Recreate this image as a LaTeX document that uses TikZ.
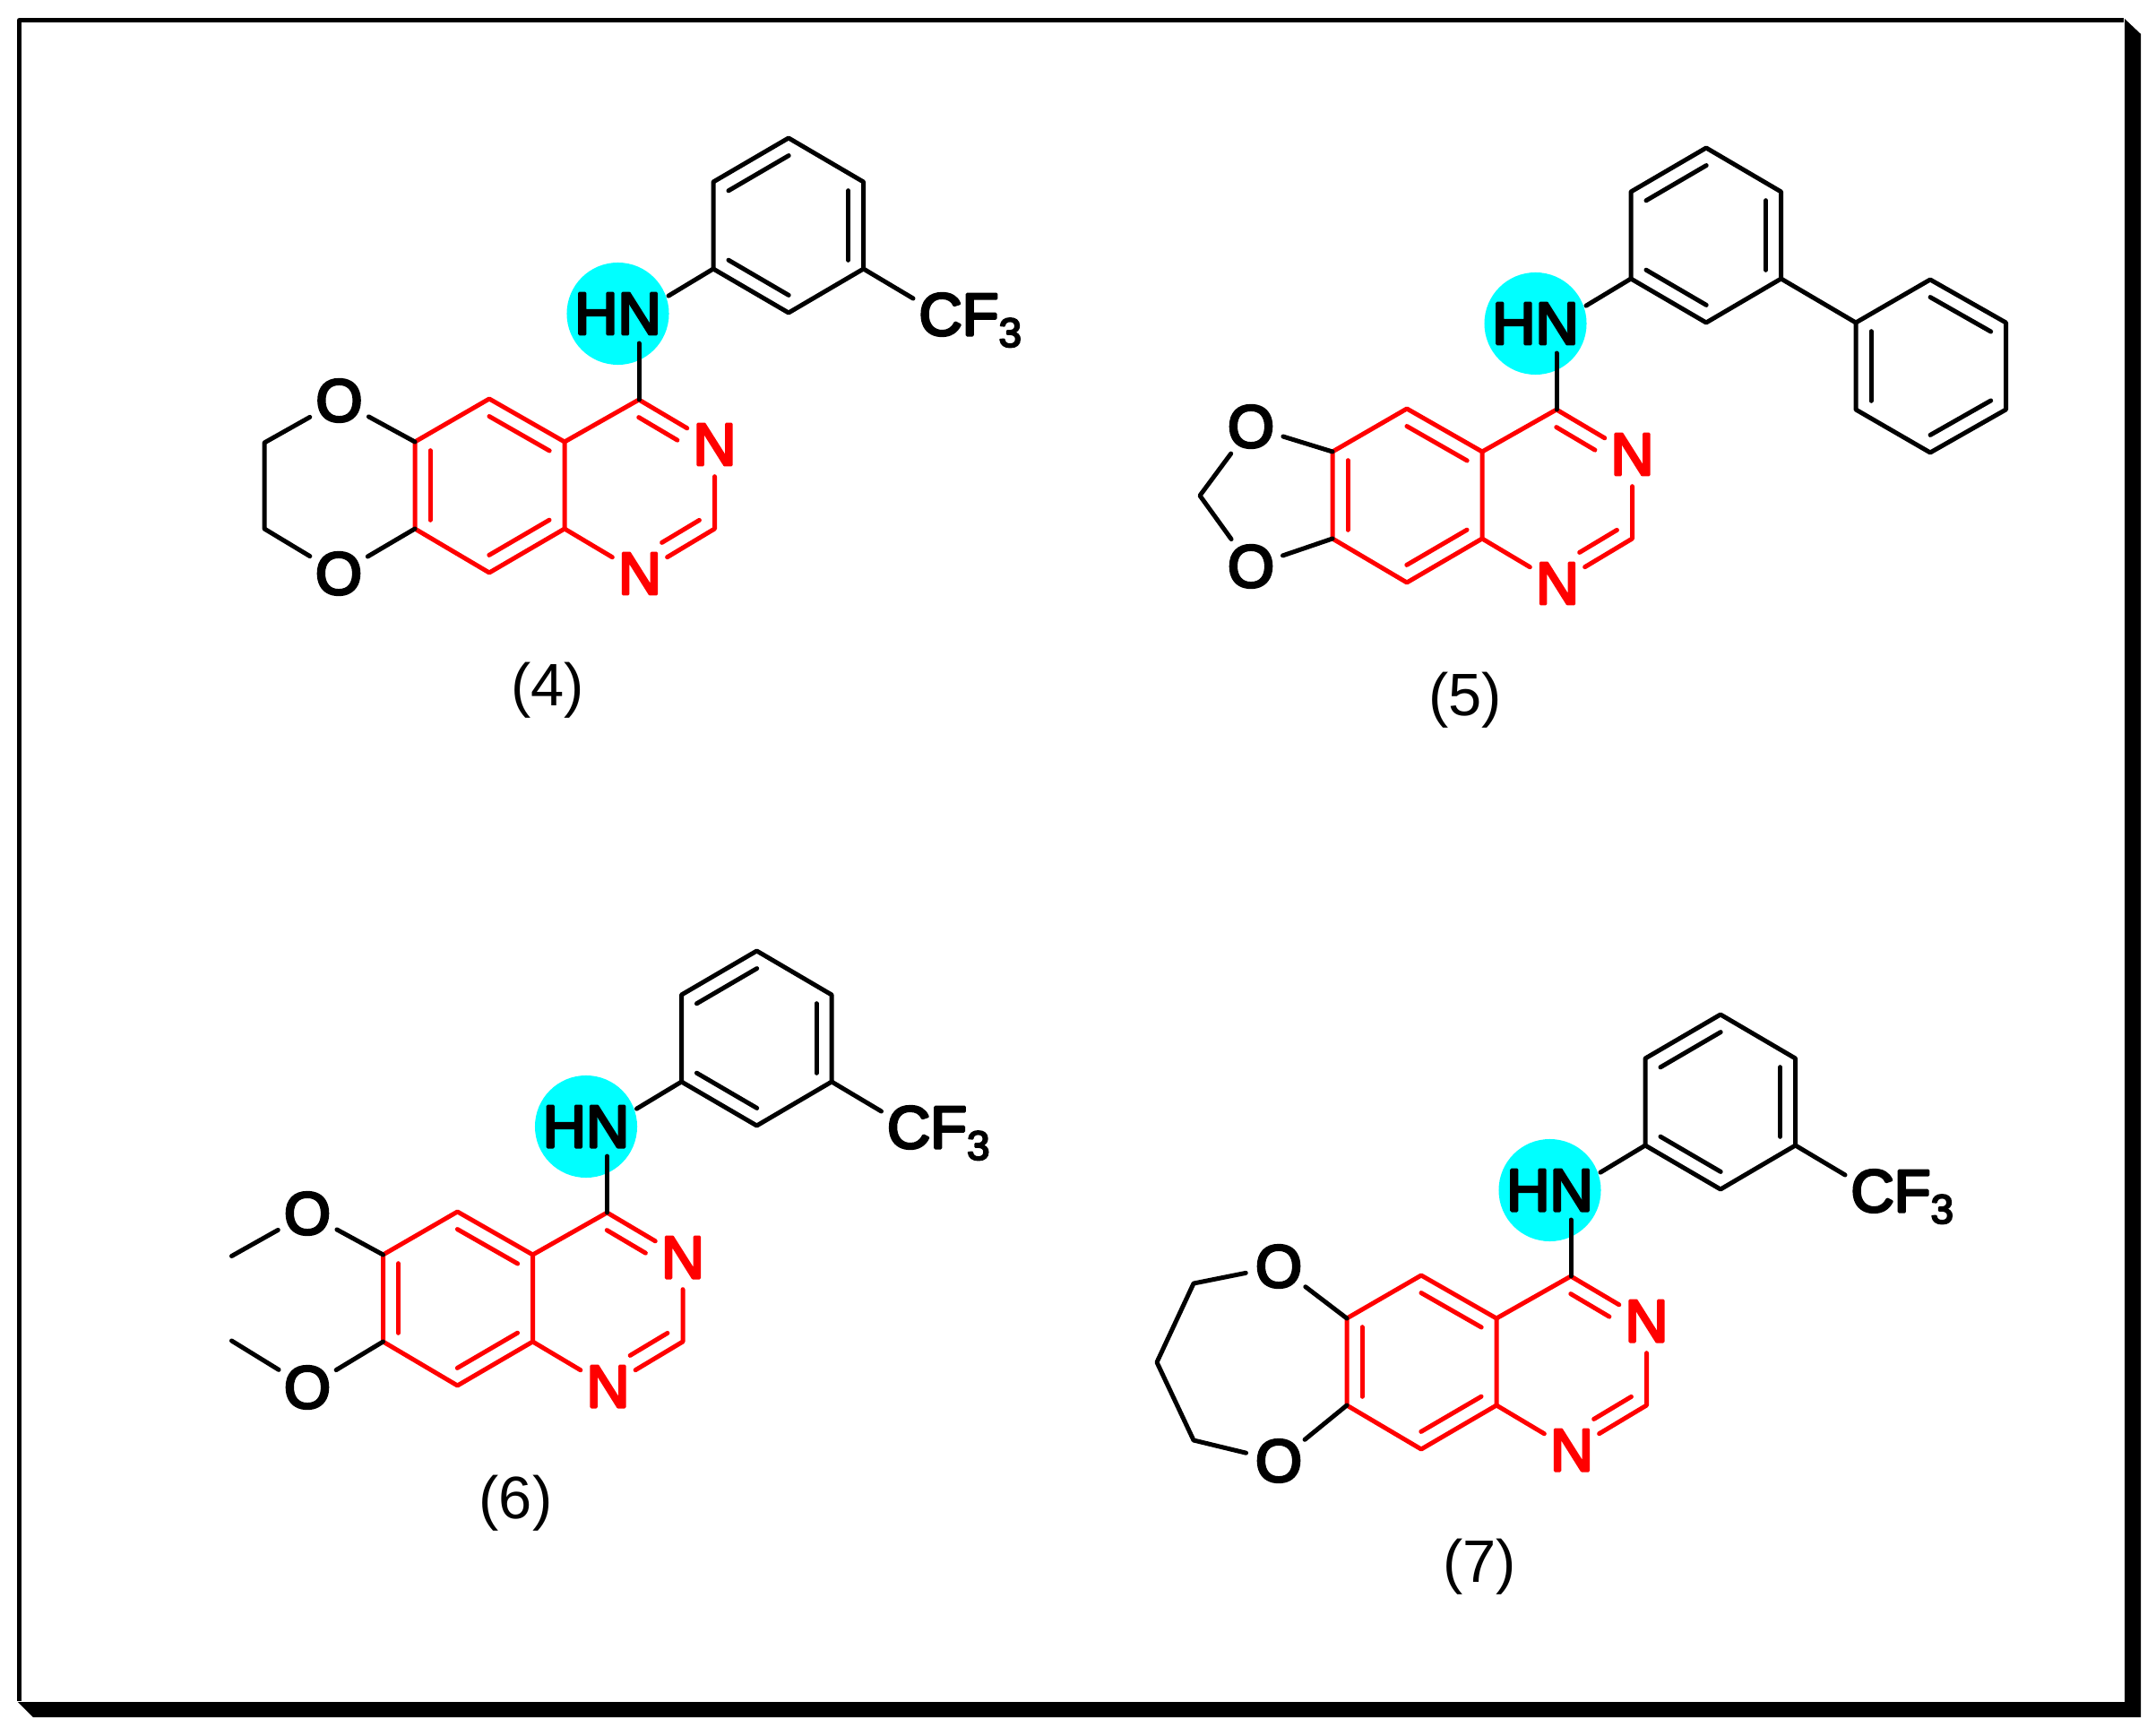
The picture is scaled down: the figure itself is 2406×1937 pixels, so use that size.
\documentclass[tikz,border=0pt]{standalone}
\usepackage{fontspec}
\setmainfont{Liberation Sans}
\newfontfamily\atomfont[FakeBold=4.5]{Liberation Sans}
\usetikzlibrary{calc}

\definecolor{hlcyan}{RGB}{0,255,255}
\definecolor{corered}{RGB}{255,0,0}

% short line of a double bond, beside the bond (a)--(b)
\newcommand{\innerbond}[5]
{
	\draw ($(#1)!#3!(#2)!0.17cm!#5:(#2)$) -- ($(#1)!#4!(#2)!0.17cm!#5:(#2)$);
}

% six-membered ring from six named corners
\newcommand{\arylring}[6]
{
	\draw (#1) -- (#2) -- (#3) -- (#4) -- (#5) -- (#6) -- cycle;
}

% the part that all four molecules share
\newcommand{\quinazoline}[1]
{
	\node [hilite] (hl) at (689.5,350) {HN};
	\coordinate (nh) at (713,350);

	% red core
	\begin{scope}[corered]
		\node [atom] (n3) at (797.5,496) {N};
		\node [atom] (n1) at (714,640) {N};
		\coordinate (c4) at (713,446);
		\coordinate (c4a) at (630,493);
		\coordinate (c8a) at (630,590);
		\coordinate (c5) at (546,445);
		\coordinate (c6) at (463,493);
		\coordinate (c7) at (463,590);
		\coordinate (c8) at (546,639);
		\coordinate (c2) at (797.5,590);
		\arylring{c5}{c4a}{c8a}{c8}{c7}{c6}
		\draw (c4a) -- (c4) -- (n3) -- (c2) -- (n1) -- (c8a);
		\innerbond{c5}{c4a}{.1}{.9}{-90}
		\innerbond{c6}{c7}{.1}{.9}{90}
		\innerbond{c8a}{c8}{.1}{.9}{-90}
		\innerbond{c4}{n3}{.1}{.61}{-90}
		\innerbond{c2}{n1}{.1}{.6}{-90}
	\end{scope}

	% aniline ring
	\coordinate (ar1) at (796,300);
	\coordinate (ar2) at (796,203);
	\coordinate (ar3) at (880,154);
	\coordinate (ar4) at (963.6,203);
	\coordinate (ar5) at (963.6,300);
	\coordinate (ar6) at (880,349);
	\draw [shorten >= 0.33cm] (c4) -- (nh);
	\draw [shorten >= 0.385cm] (ar1) -- (nh);
	\arylring{ar1}{ar2}{ar3}{ar4}{ar5}{ar6}
	\innerbond{ar2}{ar3}{.1}{.9}{-90}
	\innerbond{ar4}{ar5}{.1}{.9}{-90}
	\innerbond{ar1}{ar6}{.1}{.9}{90}

	\node [caption] (cap) at (611,770) {(#1)};
}

\newcommand{\trifluoromethyl}
{
	\node [cfgroup] (cf) at (1023,374) {CF\raisebox{-0.13cm}{\fontsize{13}{15}\selectfont 3}};
	\coordinate (cfend) at (1019,333);
	\draw (ar5) -- (cfend);
}

\begin{document}
\begin{tikzpicture}
[
	x		= 0.01cm,	% one unit is one pixel of the reference
	y		= -0.01cm,	% counted from the top
	%
	%
	% ----------- options for the bonds --------------
	every path/.style =
	{
		line width	= 0.05cm,
		line cap	= round,
		line join	= round
	},
	%
	% ----------- options for the labels -------------
	every node/.style =
	{
		font		= \fontsize{19}{23}\selectfont\atomfont,
		inner sep	= 0pt
	},
	%
	atom/.style =
	{
		circle,
		minimum size	= 0.66cm
	},
	%
	hilite/.style =
	{
		circle,
		fill			= hlcyan,
		minimum size	= 1.14cm
	},
	%
	cfgroup/.style =
	{
		anchor	= base west
	},
	%
	caption/.style =
	{
		font	= \fontsize{19}{23}\selectfont\rmfamily
	}
]

\useasboundingbox (0,0) rectangle (2406,1937);

% frame and its shadow
\fill [white] (0,0) rectangle (2406,1937);
\draw [line cap = butt] (21.5,1898) -- (21.5,22.5) -- (2370,22.5);
\fill (2371,21) -- (2389,38) -- (2389,1916) -- (37,1916) -- (20,1899) -- (2371,1899) -- cycle;

% molecule 4
\begin{scope}[name prefix = m4-]
	\quinazoline{4}
	\trifluoromethyl
	\node [atom] (ou) at (378.5,447) {O};
	\node [atom] (ol) at (378,640) {O};
	\coordinate (chu) at (295,494);
	\coordinate (chl) at (295,590);
	\draw (c6) -- (ou) -- (chu) -- (chl) -- (ol) -- (c7);
\end{scope}

% molecule 5
\begin{scope}[shift = {(1024,11)}, name prefix = m5-]
	\quinazoline{5}
	\node [atom] (ou) at (372,465) {O};
	\node [atom] (ol) at (372,621) {O};
	\coordinate (ch) at (315,542);
	\draw (c6) -- (ou) -- (ch) -- (ol) -- (c7);
	% second phenyl ring
	\coordinate (ph1) at (1047,349);
	\coordinate (ph2) at (1047,446);
	\coordinate (ph3) at (1130,494);
	\coordinate (ph4) at (1214.5,446);
	\coordinate (ph5) at (1214.5,349);
	\coordinate (ph6) at (1130,301);
	\draw (ar5) -- (ph1);
	\arylring{ph1}{ph2}{ph3}{ph4}{ph5}{ph6}
	\innerbond{ph6}{ph5}{.1}{.9}{-90}
	\innerbond{ph1}{ph2}{.1}{.9}{90}
	\innerbond{ph4}{ph3}{.1}{.9}{-90}
\end{scope}

% molecule 6
\begin{scope}[shift = {(-35.5,907)}, name prefix = m6-]
	\quinazoline{6}
	\trifluoromethyl
	\node [atom] (ou) at (378.5,447) {O};
	\node [atom] (ol) at (378.5,641) {O};
	\coordinate (meu) at (294,494.5);
	\coordinate (mel) at (294,589);
	\draw (c6) -- (ou) -- (meu);
	\draw (c7) -- (ol) -- (mel);
\end{scope}

% molecule 7
\begin{scope}[shift = {(1040,978)}, name prefix = m7-]
	\quinazoline{7}
	\trifluoromethyl
	\node [atom] (ou) at (387,435) {O};
	\node [atom] (ol) at (387,652) {O};
	\coordinate (chu) at (292,454);
	\coordinate (chm) at (251,542);
	\coordinate (chl) at (292,629);
	\draw (c6) -- (ou) -- (chu) -- (chm) -- (chl) -- (ol) -- (c7);
\end{scope}

\end{tikzpicture}
\end{document}
